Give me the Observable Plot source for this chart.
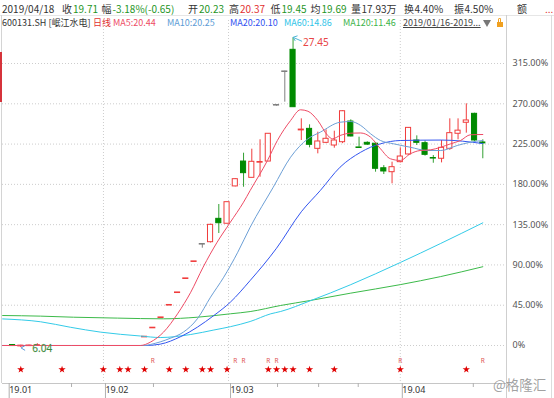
<!DOCTYPE html>
<html><head><meta charset="utf-8">
<script src="https://cdn.jsdelivr.net/npm/d3@7"></script>
<script src="https://cdn.jsdelivr.net/npm/@observablehq/plot@0.6"></script>
<style>
body{margin:0;background:#fff;}
#wrap{position:relative;width:554px;height:398px;overflow:hidden;font-family:"Noto Sans CJK SC","Noto Sans",sans-serif;background:#fff;}
#wrap svg{position:absolute;left:0;top:0;}
.t{position:absolute;white-space:nowrap;}
.r1{top:1px;height:15px;line-height:15px;font-size:10px;color:#333;}
.r2{top:16px;height:14px;line-height:14px;font-size:9px;color:#333;}
.g{color:#1f951f}.rd{color:#e23232}
.ln{position:absolute;}
</style></head><body><div id="wrap"></div>
<script>
// ---------- data (percent change vs. base price) ----------
const candleDay = [-17,-16,-15,-14,-1,0,1,2,3,4,5,6,7,8,9,10,11,12,13,14,15,16,17,18,19,20,21,22,23,24,25,26,27,28,29,30,31,32,33,34,35,36,37,38,39,40];
const openPct  = [0.5,-1.0,-0.3,0.0,10.0,20.1,31.6,45.5,59.5,75.2,94.2,113.6,115.4,141.5,136.0,177.7,205.5,187.3,204.2,205.5,268.9,306.4,330.3,240.3,242.0,219.7,226.4,223.4,227.1,250.2,222.0,226.4,225.4,198.0,193.6,204.8,213.4,229.0,226.0,210.3,208.6,219.7,236.5,248.8,258.8,226.8];
const closePct = [-0.6,-0.2,0.2,0.6,10.0,20.1,31.6,45.5,59.5,75.2,94.2,113.6,134.8,136.6,160.1,185.8,192.5,205.2,205.0,236.5,268.9,306.4,266.2,241.2,224.2,227.9,230.9,229.0,261.7,233.5,221.5,224.4,197.4,194.4,199.2,211.1,243.1,226.4,213.0,209.7,220.8,237.2,240.0,251.4,229.0,225.8];
const highPct  = [0.9,0.3,0.4,2.0,10.0,20.1,31.6,45.5,59.5,75.2,94.2,113.6,135.5,157.5,160.1,186.2,214.8,219.3,229.8,236.5,268.9,306.4,343.7,253.2,246.5,238.3,240.9,239.4,262.2,252.1,232.7,227.5,226.5,201.0,204.8,220.8,243.5,234.2,228.5,212.2,229.0,253.2,253.2,270.0,259.5,229.8];
const lowPct   = [-1.0,-2.4,-0.5,-0.8,10.0,20.1,31.6,45.5,59.5,75.2,94.2,108.7,114.5,125.1,136.0,177.2,176.8,187.3,188.0,205.5,267.3,271.8,266.2,229.0,220.8,214.1,225.5,220.4,225.5,233.0,221.5,223.5,193.6,191.0,180.6,204.0,212.5,223.4,211.5,203.6,204.0,218.0,229.8,237.2,228.0,208.6];

const ma5Day  = [-18.2,-1.5,-0.3,1.3,3.0,4.6,6.1,7.8,9.4,11.0,11.8,13.9,15.1,16.7,17.9,18.8,20.0,21.2,21.8,22.7,24.0,25.2,26.4,27.6,28.8,30.0,31.2,32.4,33.7,34.9,36.1,37.3,38.5,40.0];
const ma5Pct  = [0,0,3.7,14.9,35.4,59.5,87.5,115.4,137.7,160.1,173.1,206.7,229,251.3,263.3,261.7,251.3,234.6,230.9,234.6,237.2,237.4,232.7,219.7,208.6,206.7,214.1,217.8,218.6,221.5,225.3,229,235.4,235.7];
const ma10Day = [-18.2,-0.9,-0.3,2.1,3.7,5.4,7.0,8.6,10.3,11.8,14.6,16.7,18.8,20.3,22.7,24.0,25.2,26.4,27.6,29.2,31.2,33.3,34.9,36.9,38.5,40.0];
const ma10Pct = [0,0,1.1,8,14.9,29.8,54,76.3,104.2,132.1,176.8,210.3,230.9,238.3,249.4,250.2,245.8,236.5,229,225.3,221.5,217.8,217.8,223.4,227.1,229];
const ma20Day = [-18.2,-0.9,0.9,3.4,7.4,9.4,11.8,15.0,18.0,20.3,22.7,25.2,26.4,27.6,30.0,35.0,40.0];
const ma20Pct = [0,0,1.5,10,33.5,48.4,72.6,108.7,149.4,173.1,199.2,215.9,221.5,225.3,229,229.5,225.6];
const ma60Day = [-18.2,-13.6,-10.0,-6.3,-1.5,0.9,4.6,7.4,9.4,11.8,14.3,15.5,19.1,24.0,30.0,34.9,40.0];
const ma60Pct = [29.7,26.5,20.4,14.9,10.6,8.9,12.3,17.3,21,26.8,35.4,38,50,68,92.7,114,137];
const ma120Day = [-18.2,-13.6,-9.6,-4.3,1.3,5.4,9.4,11.8,15.5,19.1,24.0,30.0,34.9,40.0];
const ma120Pct = [33.5,32.8,31.6,30.6,29.8,31.6,35.4,37.9,44.7,50.3,58.5,68,77,88];

const starDays = [-16,-11,-6,-4,-3,-1,2,4,6,7,9,14,15,16,17,19,22,30,38];
const rDays = [0,10,11,14,15,30,40];

const extremeDay  = [17, -16];
const extremeText = ["27.45", "6.04"];

const yTicks = [0,45,90,135,180,225,270,315];
const monthTicks  = [-17.65,-5.98,9.18,30.0];
const monthLabels = ["19.01","19.02","19.03","19.04"];
const weekTicks   = [-9.85,0.08,15.12,20.1,24.9,38.85];
const gridTicks   = [-5.98,9.18,30.0];

// ---------- build ----------
const candles = candleDay.map((k,i)=>({k,o:openPct[i],c:closePct[i],h:highPct[i],l:lowPct[i]}));
const tone = d => d.c > d.o ? "up" : d.c < d.o ? "down" : (d.h === d.l ? "up" : "flat");
const RED="#f03c3c", GREEN="#008a00", GREENW="#33a033", GRAY="#808080";
const strokeOf = d => ({up:RED, down:GREEN, flat:GRAY})[tone(d)];
const wickOf = d => ({up:RED, down:GREENW, flat:GRAY})[tone(d)];
const fillOf = d => ({up:"#ffffff", down:GREEN, flat:GRAY})[tone(d)];
const W = 0.31;
const flatBodies = candles.filter(d => Math.abs(d.c - d.o) < 0.8);
const toLine = (ks, vs) => ks.map((k,i)=>({k, v: vs[i]}));
const ext = extremeDay.map((k,i)=>{const d=candles.find(c=>c.k===k); return {k, v: i===0?d.h:d.l, t: extremeText[i]};});

const chart = Plot.plot({
  width:554, height:398, marginLeft:2, marginRight:47, marginTop:20, marginBottom:15,
  x:{domain:[-18.218,42.994]},
  y:{domain:[-42.45,363.05]},
  color:{type:"identity"},
  style:{fontFamily:"'Noto Sans', sans-serif", fontSize:"9px", background:"transparent"},
  marks:[
    Plot.ruleY(yTicks,{stroke:"#cdcdcd", strokeDasharray:"1,2"}),
    Plot.ruleX(gridTicks,{stroke:"#cdcdcd", strokeDasharray:"1,2"}),
    Plot.frame({anchor:"bottom", stroke:"#c6c6c6"}),
    Plot.axisY({anchor:"right", ticks:yTicks, tickSize:0, tickPadding:5, label:null,
      tickFormat:d => d===0 ? "0%" : d.toFixed(2)+"%", fill:"#555", fontSize:9}),
    Plot.axisX({ticks:monthTicks, tickSize:15, tickPadding:-12, label:null,
      tickFormat:d => monthLabels[monthTicks.indexOf(d)], textAnchor:"start", dx:2,
      stroke:"#b0b0b0", fill:"#333", fontSize:9}),
    Plot.axisX({ticks:weekTicks, tickSize:4, label:null, tickFormat:()=>"", stroke:"#b0b0b0"}),
    Plot.ruleX(candles,{x:"k", y1:"l", y2:"h", stroke:wickOf, strokeWidth:1}),
    Plot.rect(candles.filter(d=>Math.abs(d.c-d.o)>=0.8),{x1:d=>d.k-W, x2:d=>d.k+W, y1:"o", y2:"c", fill:fillOf, stroke:strokeOf, strokeWidth:1}),
    Plot.ruleY(flatBodies,{x1:d=>d.k-W-0.06, x2:d=>d.k+W+0.06, y:"c", stroke:strokeOf, strokeWidth:1.6}),
    Plot.line(toLine(ma120Day,ma120Pct),{x:"k", y:"v", stroke:"#3cba4a", strokeWidth:1, curve:"monotone-x"}),
    Plot.line(toLine(ma60Day,ma60Pct),{x:"k", y:"v", stroke:"#33cbe8", strokeWidth:1, curve:"monotone-x"}),
    Plot.line(toLine(ma20Day,ma20Pct),{x:"k", y:"v", stroke:"#3355f0", strokeWidth:1, curve:"monotone-x"}),
    Plot.line(toLine(ma10Day,ma10Pct),{x:"k", y:"v", stroke:"#6c9fd6", strokeWidth:1, curve:"monotone-x"}),
    Plot.line(toLine(ma5Day,ma5Pct),{x:"k", y:"v", stroke:"#ee4b65", strokeWidth:1, curve:"monotone-x"}),
    Plot.dot(starDays,{x:d=>d, frameAnchor:"bottom", dy:-14, symbol:"star", r:2.3, fill:"#e00000", stroke:null}),
    Plot.text(rDays,{x:d=>d, frameAnchor:"bottom", dy:-21, text:()=>"R", fill:"#e05555", fontSize:6.5}),
    Plot.text([ext[0]],{x:"k", y:"v", text:"t", dx:10, dy:5.4, textAnchor:"start", lineAnchor:"middle", fill:"#e84545", fontSize:10}),
    Plot.text([ext[1]],{x:"k", y:"v", text:"t", dx:11.5, dy:1.2, textAnchor:"start", lineAnchor:"middle", fill:"#3f8a3f", fontSize:10, stroke:"#b8d8b8", strokeWidth:0.3})
  ]
});

const wrap = document.getElementById("wrap");
wrap.appendChild(chart);

// pointer marks for extremes, through the plot scales
const sx = chart.scale("x"), sy = chart.scale("y");
const g = d3.select(chart).append("g").attr("fill","none").attr("stroke-width",1);
{
  const px = sx.apply(ext[0].k)+0.5, py = sy.apply(ext[0].v);
  g.append("path").attr("stroke","#4db6d6")
   .attr("d",`M${px},${py}L${px+9},${py+4}M${px},${py}L${px+4.5},${py-1.5}M${px},${py}L${px+2.2},${py+3.6}`);
  const qx = sx.apply(ext[1].k)+0.8, qy = sy.apply(ext[1].v)+0.8;
  g.append("path").attr("stroke","#5a9ad8")
   .attr("d",`M${qx+4},${qy-2.4}L${qx},${qy}L${qx+4},${qy+2.4}`);
}

// ---------- header & frame decorations ----------
function add(html){ wrap.insertAdjacentHTML("beforeend", html); }
add(`<div class="ln" style="left:0;top:15px;width:554px;height:1px;background:#e6e6e6"></div>`);
add(`<div class="ln" style="left:506px;top:15px;width:1px;height:383px;background:#cfcfcf"></div>`);
add(`<div class="ln" style="left:551px;top:15px;width:1px;height:383px;background:#dcdcdc"></div>`);
add(`<div class="ln" style="left:1px;top:15px;width:1px;height:368px;background:#d4d4d4"></div>`);
add(`<div class="ln" style="left:0;top:52px;width:1.5px;height:50px;background:#d6333b"></div>`);

const r1 = [["2019/04/18",2,""],["收",62,""],["19.71",73,"g"],["幅",101.5,""],["-3.18%(-0.65)",112.5,"g"],
  ["开",188,""],["20.23",199,"g"],["高",229,""],["20.37",240,"rd"],["低",270.5,""],["19.45",281.5,"g"],
  ["均",310.5,""],["19.69",321.5,"g"],["量",351,""],["17.93万",361.5,""],["换",404,""],["4.40%",414.5,""],
  ["振",454,""],["4.50%",464.5,""],["额",517,""],["...",545,"rd"]];
r1.forEach(([t,x,c])=>add(`<div class="t r1 ${c}" style="left:${x}px">${t}</div>`));
const r2 = [["600131.SH [岷江水电]",2,"#333"],["日线",93,"#e23232"],["MA5:20.44",113,"#ee4b65"],
  ["MA10:20.25",167,"#5b9bd5"],["MA20:20.10",230,"#3050f0"],["MA60:14.86",284,"#2ec4e8"],
  ["MA120:11.46",343,"#3cb34a"]];
r2.forEach(([t,x,c])=>add(`<div class="t r2" style="left:${x}px;color:${c}">${t}</div>`));
add(`<div class="t r2" style="left:403px;color:#444;text-decoration:underline">2019/01/16-2019...</div>`);
add(`<div class="ln" style="left:483px;top:20px;width:0;height:0;border-left:4.5px solid transparent;border-right:4.5px solid transparent;border-top:7px solid #777"></div>`);
add(`<div class="ln" style="left:497px;top:22px;width:6px;height:5px;background:#f0a020"></div>`);
add(`<div class="ln" style="left:498px;top:18px;width:3px;height:4px;border:1px solid #f0a020;border-bottom:none;border-radius:2px 2px 0 0;box-sizing:border-box"></div>`);
add(`<div class="t" style="left:493px;top:376px;font-size:13.5px;line-height:16px;color:rgba(130,130,130,0.75)">@格隆汇</div>`);
</script>
</body></html>
